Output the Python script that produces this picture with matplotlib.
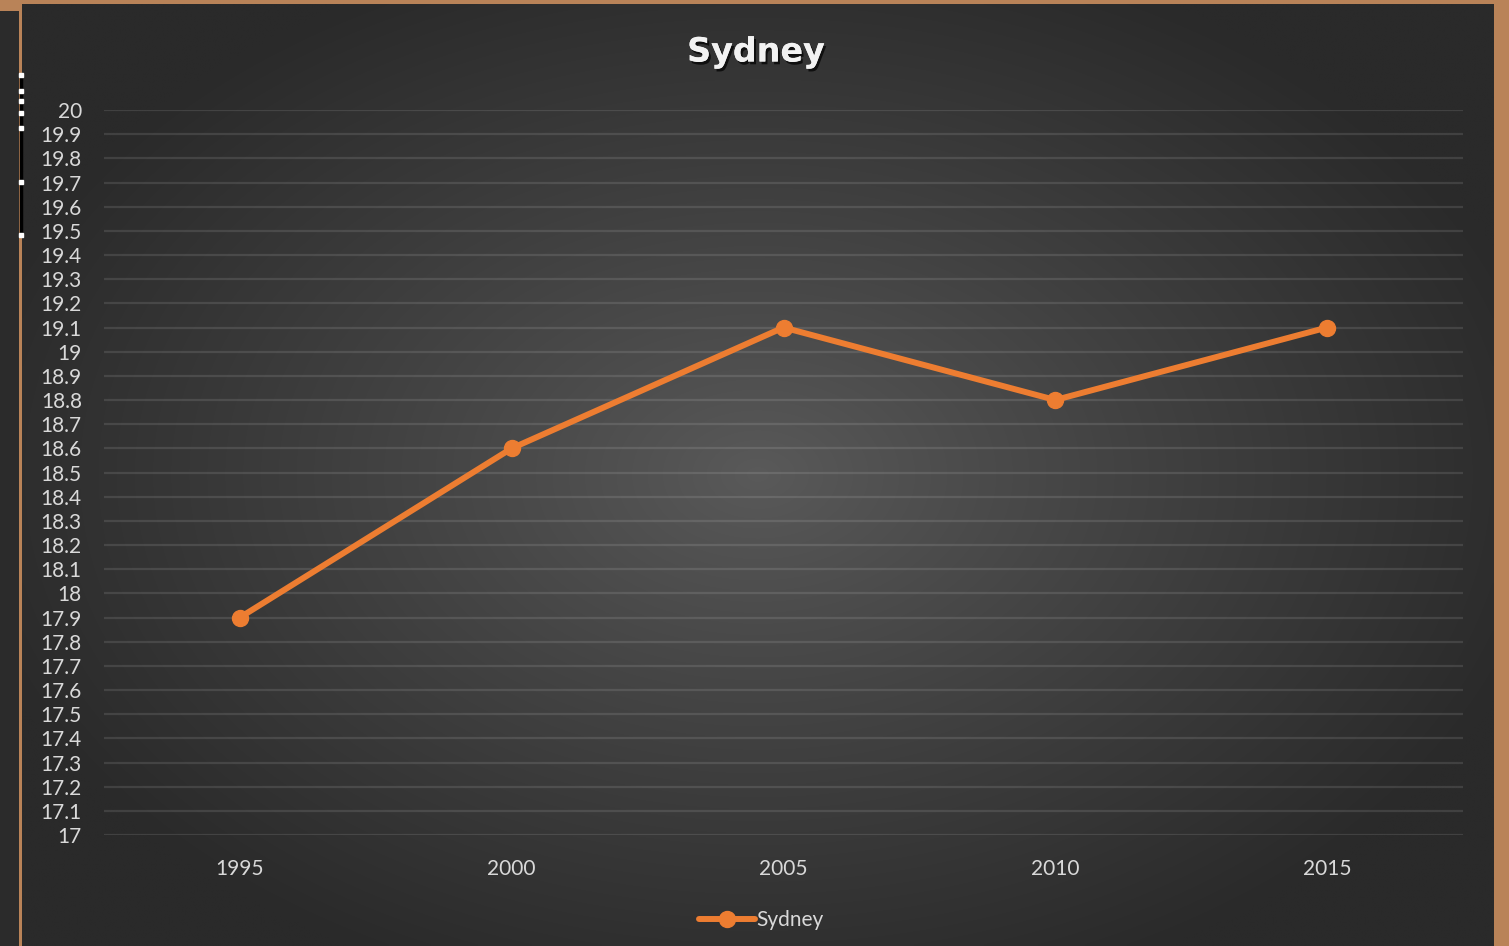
import numpy as np
import matplotlib
matplotlib.use('Agg')
import matplotlib.pyplot as plt
from matplotlib.patches import Rectangle
from matplotlib.lines import Line2D
import matplotlib.patheffects as pe

# data
years = ['1995', '2000', '2005', '2010', '2015']
sydney = [17.9, 18.6, 19.1, 18.8, 19.1]
yticks = [round(17 + 0.1 * i, 1) for i in range(31)]

W, H = 1509, 946
orange = '#ed7d31'
txt = '#d9d9d9'
plt.rcParams['font.family'] = ['Lato', 'DejaVu Sans']

fig = plt.figure(figsize=(W / 100, H / 100), dpi=100)
fig.patch.set_facecolor('#b98358')

def fx(px):
    return px / W

def fy(py):
    return 1 - py / H

# left dark strip and copper edge
fig.patches.append(Rectangle((0, 0), fx(19), fy(11), transform=fig.transFigure,
                             facecolor='#2b2b2b', edgecolor='none', zorder=0))
fig.add_artist(Line2D([fx(20.5), fx(20.5)], [fy(75), fy(235)], color='black', lw=2.5, zorder=2))
for yy in [75, 91, 101, 113, 128, 182, 235]:
    fig.add_artist(Line2D([fx(20.5)], [fy(yy)], marker='s', ms=2.2, color='white', lw=0, zorder=3))

# chart panel with radial gradient
bg = fig.add_axes([fx(22), 0, fx(1494 - 22), fy(4)])
nx, ny = 400, 260
gx = np.linspace(-1, 1, nx)
gy = np.linspace(-1, 1, ny)
X, Y = np.meshgrid(gx, gy)
R = np.sqrt(X ** 2 + (Y * 0.95) ** 2)
t = np.clip(R / 1.1, 0, 1) ** 0.9
c_in = np.array([0x5a, 0x5a, 0x5a]) / 255
c_out = np.array([0x2a, 0x2a, 0x2a]) / 255
img = c_in[None, None, :] * (1 - t[..., None]) + c_out[None, None, :] * t[..., None]
bg.imshow(img, aspect='auto', extent=[0, 1, 0, 1], interpolation='bilinear')
bg.set_axis_off()

# main plot
ax = fig.add_axes([fx(104), fy(835), fx(1463 - 104), fy(110) - fy(835)])
ax.patch.set_alpha(0)
x = np.arange(len(years))
ax.plot(x, sydney, color=orange, lw=4.3, marker='o', ms=11.5,
        solid_capstyle='round', label='Sydney', zorder=3)
ax.set_xlim(-0.5, len(years) - 0.5)
ax.set_ylim(17, 20)
ax.set_yticks(yticks)
ax.set_yticklabels(['%g' % v for v in yticks])
ax.set_xticks(x)
ax.set_xticklabels(years)
ax.tick_params(axis='both', length=0, colors=txt, labelsize=15)
ax.tick_params(axis='y', pad=16)
ax.tick_params(axis='x', pad=17.5)
ax.grid(axis='y', color='white', alpha=0.11, lw=1.6)
for s in ax.spines.values():
    s.set_visible(False)

fig.text(fx(756), fy(52), 'Sydney', ha='center', va='center', fontsize=24,
         fontweight='bold', color='#f2f2f2', family=['DejaVu Sans'],
         path_effects=[pe.withSimplePatchShadow(offset=(1.5, -2), shadow_rgbFace='black', alpha=0.7),
                       pe.Normal()])

leg = ax.legend(loc='center', bbox_to_anchor=(fx(761), fy(920)), bbox_transform=fig.transFigure,
                frameon=False, fontsize=15, handlelength=2.7, handletextpad=0.05, labelcolor=txt)

fig.savefig('out.png', dpi=100, facecolor=fig.get_facecolor())
